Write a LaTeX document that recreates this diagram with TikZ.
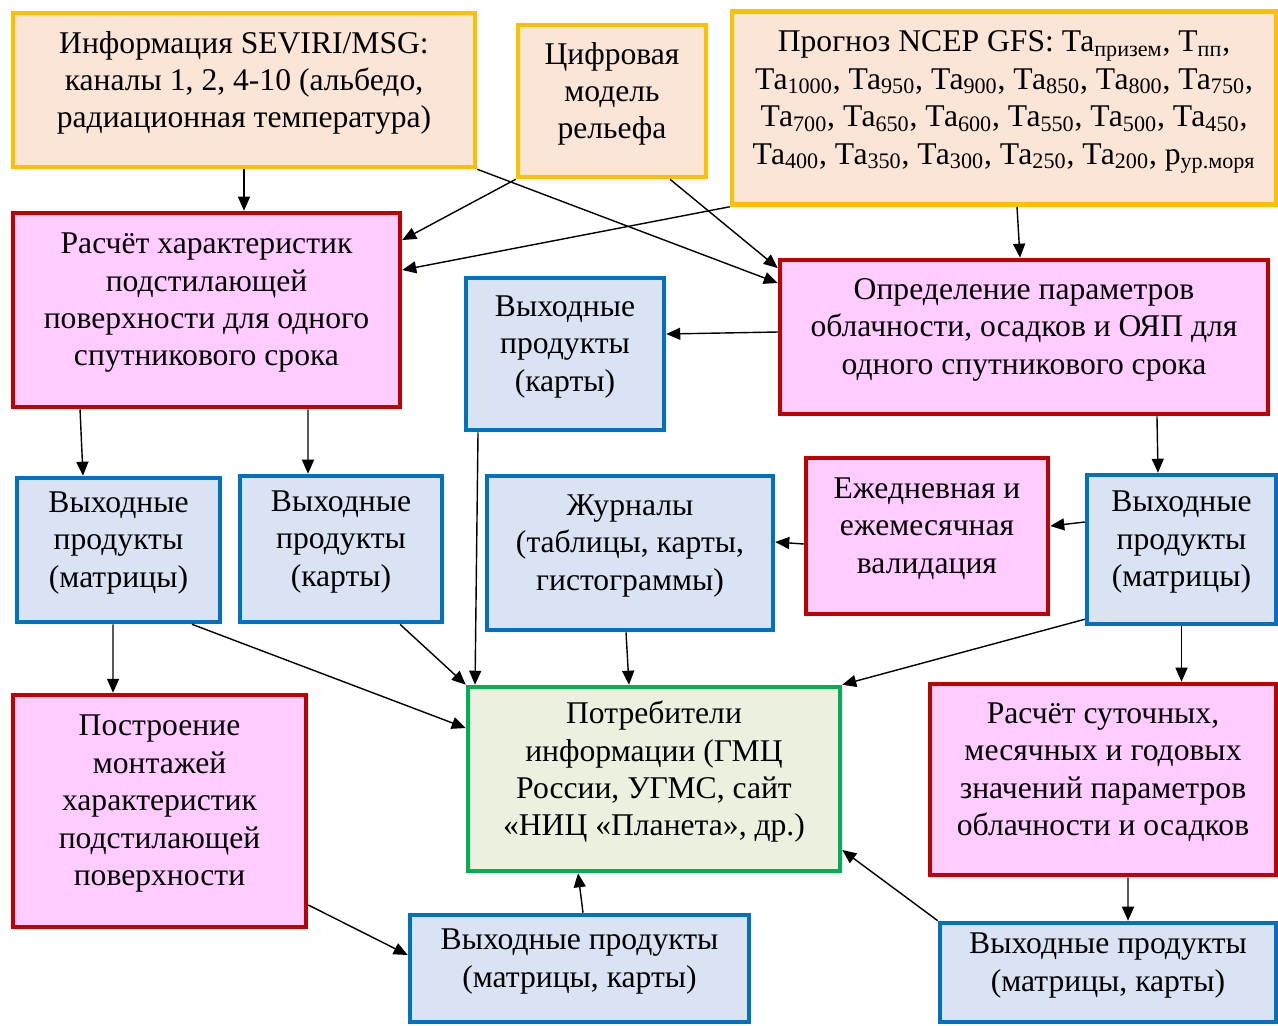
\documentclass[tikz,border=0pt]{standalone}
\usepackage{fontspec}
\setmainfont{Liberation Serif}
\usetikzlibrary{arrows.meta}

\begin{document}
\begin{tikzpicture}[
	x=0.02cm, y=-0.02cm,
	box/.style={draw, line width=2.6pt, align=center, inner sep=2pt, text depth=12pt, font=\fontsize{18}{21.3}\selectfont},
	source/.style={box, draw=srcorange, fill=srcfill},
	process/.style={box, draw=procred, fill=procfill},
	product/.style={box, draw=prodblue, fill=prodfill},
	consumer/.style={box, draw=consgreen, fill=consfill},
	flow/.style={-{Triangle[length=0.28cm, width=0.24cm]}, line width=0.8pt}
	]
		\definecolor{srcorange}{RGB}{255, 192, 0}
		\definecolor{srcfill}{RGB}{251, 229, 214}
		\definecolor{procred}{RGB}{192, 0, 0}
		\definecolor{procfill}{RGB}{255, 204, 255}
		\definecolor{prodblue}{RGB}{0, 112, 192}
		\definecolor{prodfill}{RGB}{218, 227, 243}
		\definecolor{consgreen}{RGB}{0, 176, 80}
		\definecolor{consfill}{RGB}{235, 241, 222}

	\useasboundingbox (0,0) rectangle (1278,1025);

	% input data
	\node[source, minimum width=9.24cm, minimum height=3.08cm] (seviri) at (244,90) {Информация SEVIRI/MSG:\\каналы 1, 2, 4-10 (альбедо,\\радиационная температура)};
	\node[source, minimum width=3.76cm, minimum height=3.04cm] (dem) at (612,101) {Цифровая\\модель\\рельефа};
	\node[source, minimum width=10.88cm, minimum height=3.86cm] (ncep) at (1004,108) {Прогноз NCEP GFS: Та\textsubscript{призем}, Т\textsubscript{пп},\\Та\textsubscript{1000}, Та\textsubscript{950}, Та\textsubscript{900}, Та\textsubscript{850}, Та\textsubscript{800}, Та\textsubscript{750},\\Та\textsubscript{700}, Та\textsubscript{650}, Та\textsubscript{600}, Та\textsubscript{550}, Та\textsubscript{500}, Та\textsubscript{450},\\Та\textsubscript{400}, Та\textsubscript{350}, Та\textsubscript{300}, Та\textsubscript{250}, Та\textsubscript{200}, р\textsubscript{ур.моря}};

	% processing
	\node[process, minimum width=7.74cm, minimum height=3.88cm] (surf) at (206.5,310) {Расчёт характеристик\\подстилающей\\поверхности для одного\\спутникового срока};
	\node[process, minimum width=9.76cm, minimum height=3.08cm] (cloud) at (1024,337) {Определение параметров\\облачности, осадков и ОЯП для\\одного спутникового срока};
	\node[process, minimum width=4.84cm, minimum height=3.12cm] (valid) at (927,536) {Ежедневная и\\ежемесячная\\валидация};
	\node[process, minimum width=5.86cm, minimum height=4.64cm] (mont) at (159.5,811) {Построение\\монтажей\\характеристик\\подстилающей\\поверхности};
	\node[process, minimum width=6.92cm, minimum height=3.82cm] (daily) at (1103,779.5) {Расчёт суточных,\\месячных и годовых\\значений параметров\\облачности и осадков};

	% products
	\node[product, minimum width=3.96cm, minimum height=3.04cm] (mapsA) at (565,354) {Выходные\\продукты\\(карты)};
	\node[product, minimum width=4.06cm, minimum height=2.88cm] (matB) at (118.5,550) {Выходные\\продукты\\(матрицы)};
	\node[product, minimum width=4.04cm, minimum height=2.92cm] (mapsC) at (341,549) {Выходные\\продукты\\(карты)};
	\node[product, minimum width=5.72cm, minimum height=3.08cm] (logs) at (630,553) {Журналы\\(таблицы, карты,\\гистограммы)};
	\node[product, minimum width=3.78cm, minimum height=2.98cm] (matD) at (1181.5,549.5) {Выходные\\продукты\\(матрицы)};
	\node[product, minimum width=6.78cm, minimum height=2.14cm] (outE) at (579.5,968.5) {Выходные продукты\\(матрицы, карты)};
	\node[product, minimum width=6.72cm, minimum height=1.98cm] (outF) at (1108,972.5) {Выходные продукты\\(матрицы, карты)};

	% consumers
	\node[consumer, minimum width=7.44cm, minimum height=3.68cm] (users) at (654,779) {Потребители\\информации (ГМЦ\\России, УГМС, сайт\\«НИЦ «Планета», др.)};

	% arrows
	\draw[flow] (seviri) -- (seviri |- surf.north);
	\draw[flow] (seviri.south east) -- ([yshift=1.08cm]cloud.west);
	\draw[flow] (dem.south west) -- ([yshift=1.4cm]surf.east);
	\draw[flow] ([xshift=1.16cm]dem.south) -- ([yshift=1.38cm]cloud.west);
	\draw[flow] (ncep.south west) -- ([yshift=0.8cm]surf.east);
	\draw[flow] ([xshift=0.26cm]ncep.south) -- ([xshift=-0.08cm]cloud.north);
	\draw[flow] ([yshift=0.1cm]cloud.west) -- ([yshift=0.4cm]mapsA.east);
	\draw[flow] ([xshift=-2.53cm]surf.south) -- ([xshift=-0.71cm]matB.north);
	\draw[flow] ([xshift=2.03cm]surf.south) -- ([xshift=-0.66cm]mapsC.north);
	\draw[flow] ([xshift=2.66cm]cloud.south) -- ([xshift=-0.47cm]matD.north);
	\draw[flow] ([yshift=0.55cm]matD.west) -- ([yshift=0.2cm]valid.east);
	\draw[flow] ([yshift=-0.16cm]valid.west) -- ([yshift=0.22cm]logs.east);
	\draw[flow] ([xshift=-0.11cm]matB.south) -- ([xshift=-0.93cm]mont.north);
	\draw[flow] ([xshift=1.47cm]matB.south) -- ([yshift=1.02cm]users.west);
	\draw[flow] ([xshift=1.18cm]mapsC.south) -- (users.north west);
	\draw[flow] ([xshift=-1.74cm]mapsA.south) -- ([xshift=-3.58cm]users.north);
	\draw[flow] ([xshift=-0.08cm]logs.south) -- ([xshift=-0.5cm]users.north);
	\draw[flow] ([yshift=0.14cm]matD.south west) -- (users.north east);
	\draw[flow] (matD.south) -- (matD.south |- daily.north);
	\draw[flow] ([yshift=-1.88cm]mont.east) -- ([yshift=0.27cm]outE.west);
	\draw[flow] ([xshift=0.07cm]outE.north) -- ([xshift=-1.52cm]users.south);
	\draw[flow] (outF.north west) -- ([yshift=-1.42cm]users.east);
	\draw[flow] ([xshift=0.5cm]daily.south) -- ([xshift=0.4cm]outF.north);
\end{tikzpicture}
\end{document}
